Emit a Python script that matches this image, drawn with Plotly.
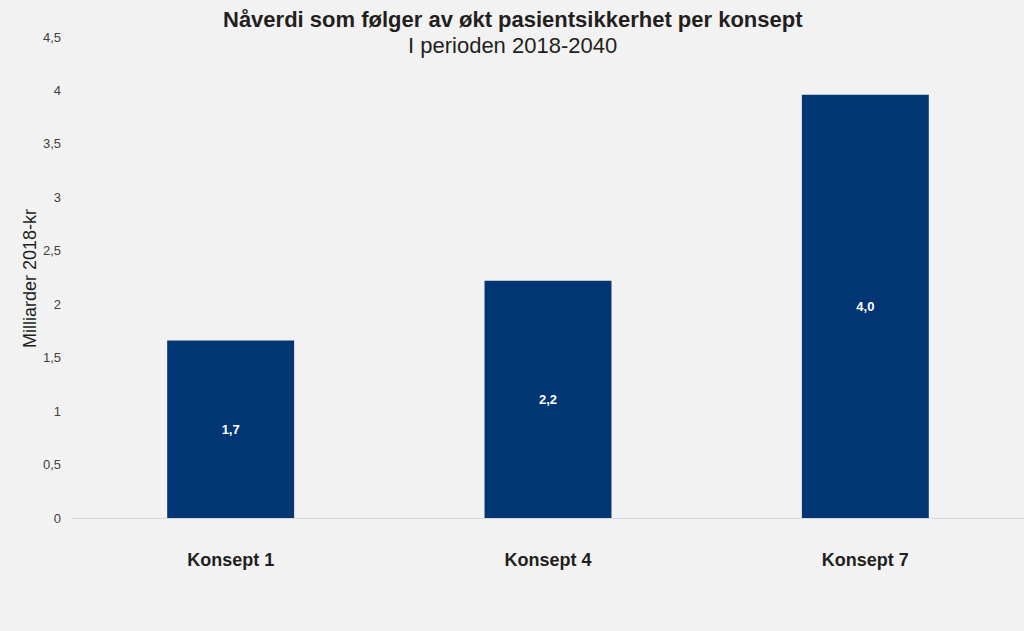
import plotly.graph_objects as go

categories = ["Konsept 1", "Konsept 4", "Konsept 7"]
values = [1.66, 2.22, 3.96]
tick_vals = [0, 0.5, 1, 1.5, 2, 2.5, 3, 3.5, 4, 4.5]
tick_text = ["0", "0,5", "1", "1,5", "2", "2,5", "3", "3,5", "4", "4,5"]

font_main = "Liberation Sans, Arial, sans-serif"

fig = go.Figure(go.Bar(
    x=categories, y=values,
    marker=dict(color="#023574", line=dict(width=0)),
    width=0.4,
    texttemplate="%{y:.1f}",
    textposition="inside",
    insidetextanchor="middle",
    textfont=dict(color="white", size=13, family=font_main, weight="bold"),
    hoverinfo="skip",
))

L, R, T, B = 72, 0, 37, 113
W, H = 1024, 631
plot_w = W - L - R
plot_h = H - T - B

def px_to_paper(px, py):
    return (px - L) / plot_w, 1 - (py - T) / plot_h

tx, ty = px_to_paper(513, 19)
sx, sy = px_to_paper(512, 46)
yx, yy = px_to_paper(30, 279)

fig.update_layout(
    width=W, height=H,
    separators=",.",
    paper_bgcolor="#f2f2f2", plot_bgcolor="#f2f2f2",
    margin=dict(l=L, r=R, t=T, b=B),
    showlegend=False,
    font=dict(family=font_main, color="#404040"),
    annotations=[
        dict(text="<b>Nåverdi som følger av økt pasientsikkerhet per konsept</b>",
             x=tx, y=ty, xref="paper", yref="paper", showarrow=False,
             xanchor="center", yanchor="middle",
             font=dict(family=font_main, size=22, color="#231f20")),
        dict(text="I perioden 2018-2040",
             x=sx, y=sy, xref="paper", yref="paper", showarrow=False,
             xanchor="center", yanchor="middle",
             font=dict(family=font_main, size=22, color="#231f20")),
        dict(text="Milliarder 2018-kr",
             x=yx, y=yy, xref="paper", yref="paper", showarrow=False,
             xanchor="center", yanchor="middle", textangle=-90,
             font=dict(family=font_main, size=18, color="#231f20")),
    ],
)

fig.update_xaxes(
    showgrid=False, showline=True, linecolor="#d9d9d9", linewidth=1,
    ticks="", tickfont=dict(size=18, color="#231f20", weight="bold"),
    ticklabelstandoff=25,
)
fig.update_yaxes(
    range=[0, 4.5], tickvals=tick_vals, ticktext=tick_text,
    showgrid=False, zeroline=False, showline=False, ticks="",
    tickfont=dict(size=13, color="#404040"), ticklabelstandoff=10,
)

fig.write_html("out.html", config={"displayModeBar": False},
               post_script="document.body.style.margin='0';document.body.style.padding='0';")
